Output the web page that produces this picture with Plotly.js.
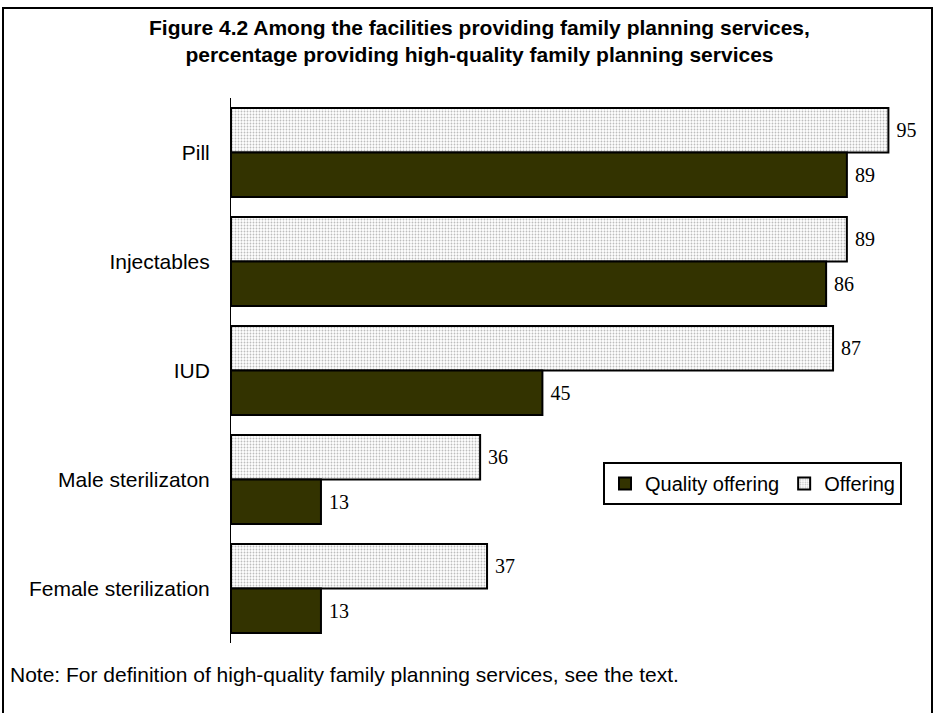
<!DOCTYPE html>
<html>
<head>
<meta charset="utf-8">
<script src="https://cdn.plot.ly/plotly-3.0.1.min.js"></script>
<style>html,body{margin:0;padding:0;background:#fff;}#chart{width:935px;height:713px;}</style>
</head>
<body>
<div id="chart"></div>
<script>
const categories = ["Pill", "Injectables", "IUD", "Male sterilizaton", "Female sterilization"];
const offering = [95, 89, 87, 36, 37];
const qualityOffering = [89, 86, 45, 13, 13];
const seriesNames = ["Offering", "Quality offering"];
const titleText = "<b>Figure 4.2 Among the facilities providing family planning services,<br>percentage providing high-quality family planning services</b>";
const noteText = "Note: For definition of high-quality family planning services, see the text.";

const W = 935, H = 713;
const L = 231, R = 12, T = 98, B = 70;
const pw = W - L - R, ph = H - T - B;
function px(x){ return (x - L) / pw; }
function py(y){ return (H - B - y) / ph; }

const SANS = "Liberation Sans";
const SERIF = "Liberation Serif";
const valueFont = {family: SERIF, size: 20, color: "#000"};

const traces = [
  {
    type: "bar", orientation: "h", name: seriesNames[0],
    y: categories, x: offering,
    text: offering.map(v => "\u00a0" + v), textposition: "outside",
    textfont: valueFont, outsidetextfont: valueFont,
    cliponaxis: false,
    marker: {color: "#ffffff", line: {color: "#000", width: 2},
      pattern: {shape: ".", fgcolor: "#bdbdbd", bgcolor: "#ffffff", size: 3, solidity: 0.3}},
    hoverinfo: "x+y"
  },
  {
    type: "bar", orientation: "h", name: seriesNames[1],
    y: categories, x: qualityOffering,
    text: qualityOffering.map(v => "\u00a0" + v), textposition: "outside",
    textfont: valueFont, outsidetextfont: valueFont,
    cliponaxis: false,
    marker: {color: "#333300", line: {color: "#000", width: 2}},
    hoverinfo: "x+y"
  }
];

const layout = {
  width: W, height: H,
  margin: {l: L, r: R, t: T, b: B, pad: 0},
  paper_bgcolor: "#fff", plot_bgcolor: "#fff",
  font: {family: SANS, color: "#000"},
  barmode: "group", bargap: 0.183, bargroupgap: 0,
  showlegend: true,
  legend: {
    orientation: "h", traceorder: "reversed",
    x: px(603), y: py(462), xanchor: "left", yanchor: "top",
    bordercolor: "#000", borderwidth: 2, bgcolor: "#fff",
    font: {family: SANS, size: 20, color: "#000"},
    itemwidth: 30, tracegroupgap: 0
  },
  xaxis: {range: [0, 100], showgrid: false, zeroline: false, showline: false,
    showticklabels: false, ticks: "", fixedrange: true},
  yaxis: {autorange: "reversed", type: "category", showgrid: false, zeroline: false,
    showline: true, linecolor: "#000", linewidth: 1, ticks: "", ticklabelstandoff: 16,
    tickfont: {family: SANS, size: 21, color: "#000"}},
  annotations: [
    {text: titleText, xref: "paper", yref: "paper", x: px(479), y: py(14), xanchor: "center", yanchor: "top",
      showarrow: false, font: {family: SANS, size: 21, color: "#000"}},
    {text: noteText, xref: "paper", yref: "paper", x: px(8), y: py(674), xanchor: "left", yanchor: "middle",
      showarrow: false, font: {family: SANS, size: 21, color: "#000"}}
  ],
  shapes: [
    {type: "rect", xref: "paper", yref: "paper", x0: px(3), x1: px(932), y0: py(8), y1: py(730),
      line: {color: "#000", width: 2}, fillcolor: "rgba(0,0,0,0)", layer: "above"}
  ]
};

Plotly.newPlot("chart", traces, layout, {displayModeBar: false, staticPlot: true});
</script>
</body>
</html>
